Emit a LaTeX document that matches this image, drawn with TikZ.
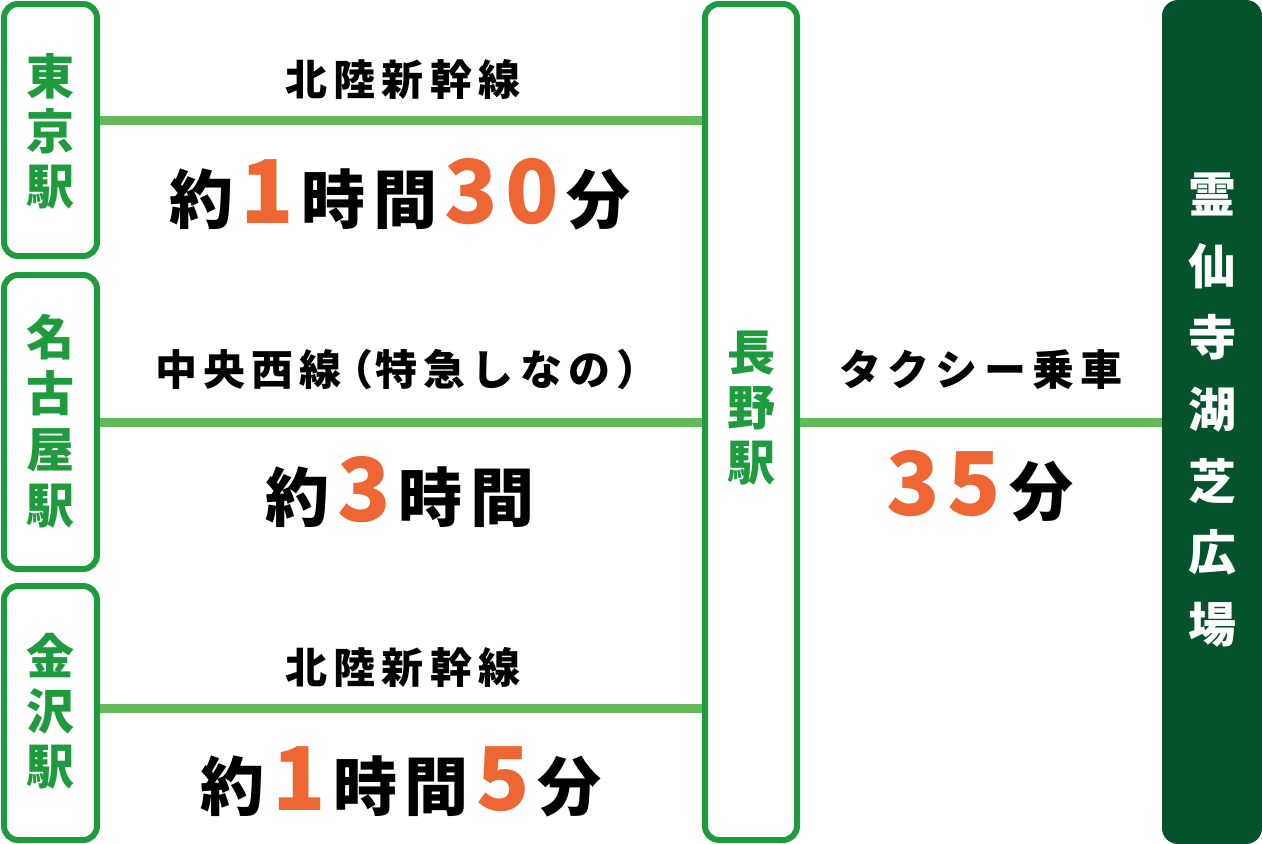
\documentclass[tikz,border=0pt]{standalone}
\usepackage{fontspec}
\newfontfamily\jp{Noto Sans CJK JP}
\newfontfamily\jpsp[LetterSpace=15]{Noto Sans CJK JP}
\definecolor{stngreen}{HTML}{1E9B3D}
\definecolor{railgreen}{HTML}{66B95B}
\definecolor{goalgreen}{HTML}{04532C}
\definecolor{timeorange}{HTML}{EE6633}
\newcommand{\hl}[1]{{\color{timeorange}\fontsize{88}{88}\selectfont #1}}
\newcommand{\tgap}{\kern7.5pt}

\begin{document}
\begin{tikzpicture}[x=1pt,y=-1pt,
    stn/.style={draw=stngreen, line width=6pt, rounded corners=14pt, minimum width=93pt, inner sep=0pt},
    stnname/.style={text=stngreen, font=\jp\bfseries\fontsize{48}{55}\selectfont, align=center, inner sep=0pt},
    rail/.style={railgreen, line width=9pt},
    linename/.style={font=\jpsp\bfseries\fontsize{42}{42}\selectfont, inner sep=0pt},
    timebox/.style={font=\jp\bfseries\fontsize{64}{64}\selectfont, inner sep=0pt, anchor=base}]
  \useasboundingbox (0,0) rectangle (1262,844);

  % Stations
  \node[stn, minimum height=252pt] (tokyo) at (50.5,130) {};
  \node[stnname] (tokyoname) at (50.5,131) {東\\京\\駅};
  \node[stn, minimum height=294pt] (nagoya) at (50.5,422) {};
  \node[stnname, font=\jp\bfseries\fontsize{48}{56}\selectfont] (nagoyaname) at (50.5,421.5) {名\\古\\屋\\駅};
  \node[stn, minimum height=254pt] (kanazawa) at (50.5,713) {};
  \node[stnname] (kanazawaname) at (50.5,711.5) {金\\沢\\駅};
  \node[stn, minimum width=92pt, minimum height=836pt] (nagano) at (751,422) {};
  \node[stnname] (naganoname) at (751,408) {長\\野\\駅};

  % Goal
  \node[fill=goalgreen, rounded corners=16pt, minimum width=100pt, minimum height=844pt, inner sep=0pt] (goal) at (1212,422) {};
  \node[stnname, text=white, font=\jp\bfseries\fontsize{48}{71.7}\selectfont] (goalname) at (1212,410) {霊\\仙\\寺\\湖\\芝\\広\\場};

  % Rails
  \draw[rail] ([yshift=10pt]tokyo.east) -- ([yshift=10pt]tokyo.east -| nagano.west);
  \draw[rail] (nagoya.east) -- (nagoya.east -| nagano.west);
  \draw[rail] ([yshift=5pt]kanazawa.east) -- ([yshift=5pt]kanazawa.east -| nagano.west);
  \draw[rail] (nagano.east) -- (goal.west);

  % Line names and times
  \node[linename] (hokuriku) at (403,80) {北陸新幹線};
  \node[timebox] (tokyotime) at (400,223) {約\tgap{}\hl{1}\tgap{}時\tgap{}間\tgap{}\hl{3\tgap{}0}\tgap{}分};
  \node[linename] (chuo) at (407,370) {中央西線\kern-0.24em（\kern0.035em 特急しなの）};
  \node[timebox] (nagoyatime) at (400,521) {約\tgap{}\hl{3}\tgap{}時\tgap{}間};
  \node[linename] (hokuriku2) at (403,668) {北陸新幹線};
  \node[timebox] (kanazawatime) at (401,810) {約\tgap{}\hl{1}\tgap{}時\tgap{}間\tgap{}\hl{5}\tgap{}分};
  \node[linename] (taxi) at (981,370) {タクシー乗車};
  \node[timebox] (taxitime) at (980,515) {\hl{3\tgap{}5}\tgap{}分};
\end{tikzpicture}
\end{document}
